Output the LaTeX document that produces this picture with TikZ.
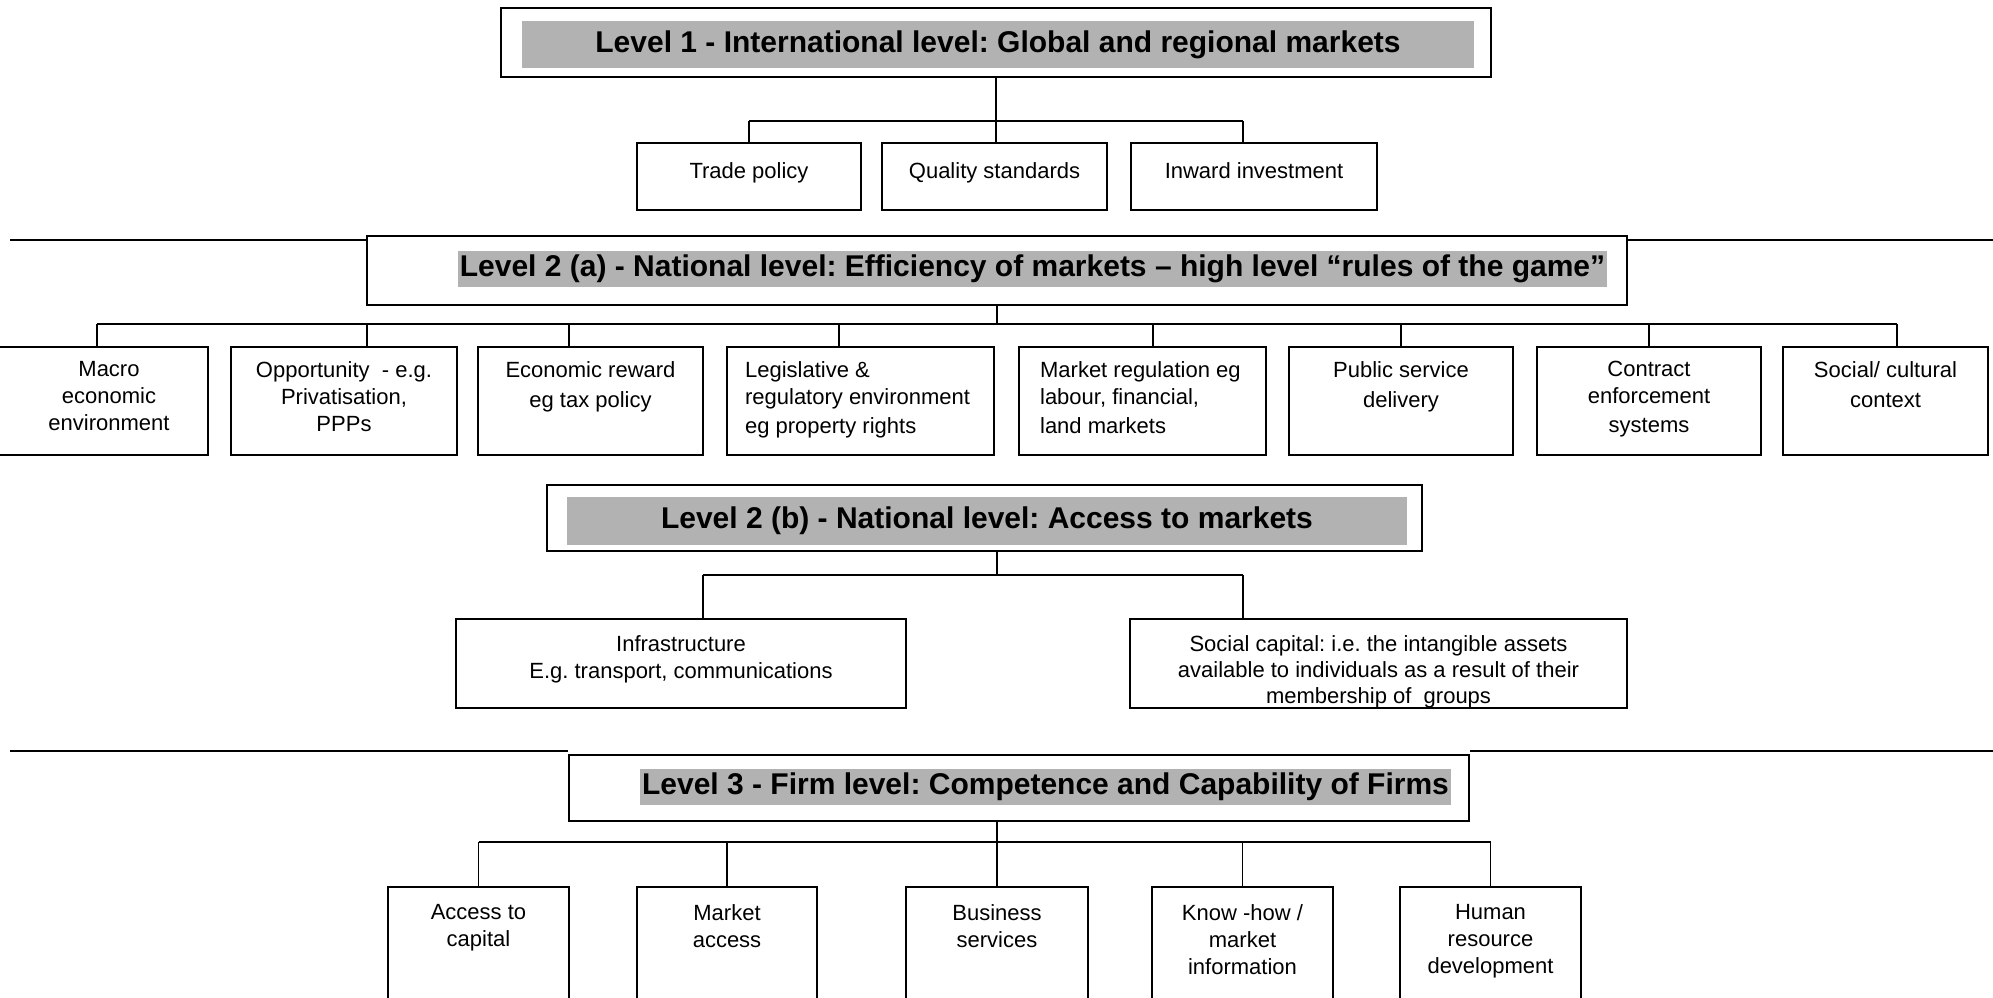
\documentclass[tikz,border=0pt]{standalone}
\usepackage{fontspec}
\setmainfont{Liberation Sans}
\frenchspacing
\tikzset{
  lvlbox/.style={draw, line width=2.2pt, fill=white, inner sep=0pt},
  band/.style={fill=black!30, inner sep=0pt, font=\fontsize{30}{34}\selectfont\bfseries},
  hilite/.style={band, inner xsep=2pt, inner ysep=2.5pt, text height=23pt, text depth=8pt},
  cell/.style={draw, line width=2.2pt, inner sep=0pt},
  celltext/.style={anchor=north, inner sep=0pt, align=center, font=\fontsize{22}{27}\selectfont},
  link/.style={line width=1.6pt},
  sepline/.style={line width=1.2pt},
}

\begin{document}
\begin{tikzpicture}[x=1pt, y=-1pt]
  \useasboundingbox (0,0) rectangle (1993,997);
  \clip (0,0) rectangle (1993,997);

  % coordinates to be reused
  \coordinate (r1) at (10,240);
  \coordinate (r2) at (10,751);
  \coordinate (bar1) at (0,121);
  \coordinate (bar2) at (0,324);
  \coordinate (bar3) at (0,575);
  \coordinate (bar4) at (0,842);

  % level 1
  \node[lvlbox, minimum width=990pt, minimum height=69pt] (l1) at (996,42.5) {};
  \node[band, minimum width=952pt, minimum height=47pt] (l1t) at (998,44.5)
    {Level 1 - International level: Global and regional markets};

  \node[cell, minimum width=224pt, minimum height=67pt] (trade) at (749,176.5) {};
  \node[cell, minimum width=225pt, minimum height=67pt] (quality) at (994.5,176.5) {};
  \node[cell, minimum width=246pt, minimum height=67pt] (inward) at (1254,176.5) {};
  \node[celltext] at ([yshift=-20pt]trade.north) {Trade policy};
  \node[celltext] at ([yshift=-20pt]quality.north) {Quality standards};
  \node[celltext] at ([yshift=-20pt]inward.north) {Inward investment};

  \path ([xshift=-11pt]inward.north) coordinate (inward tap);
  \draw[link] (l1.south) -- (l1.south |- bar1);
  \draw[link] (trade.north |- bar1) -- (inward tap |- bar1);
  \foreach \n/\dx in {trade/0, quality/1.5, inward/-11}
    \draw[link] ([xshift=\dx pt]\n.north) coordinate (t) -- (t |- bar1);

  % level 2 (a)
  \node[lvlbox, minimum width=1260pt, minimum height=69pt] (l2a) at (997,270.5) {};
  \node[hilite] (l2at) at (1032.5,269)
    {Level 2 (a) - National level: Efficiency of markets – high level “rules of the game”};
  \draw[sepline] (r1) -- (r1 -| l2a.west);
  \draw[sepline] (r1 -| l2a.east) -- (r1 -| 1993,0);

  \node[cell, minimum width=214pt, minimum height=108pt] (macro) at (101,401) {};
  \node[cell, minimum width=226pt, minimum height=108pt] (opp) at (344,401) {};
  \node[cell, minimum width=225pt, minimum height=108pt] (reward) at (590.5,401) {};
  \node[cell, minimum width=267pt, minimum height=108pt] (legal) at (860.5,401) {};
  \node[cell, minimum width=247pt, minimum height=108pt] (mreg) at (1142.5,401) {};
  \node[cell, minimum width=224pt, minimum height=108pt] (public) at (1401,401) {};
  \node[cell, minimum width=224pt, minimum height=108pt] (contract) at (1649,401) {};
  \node[cell, minimum width=205pt, minimum height=108pt] (socctx) at (1885.5,401) {};

  \node[celltext] at ([xshift=8pt, yshift=-15pt]macro.north) {Macro\\economic\\environment};
  \node[celltext] at ([yshift=-15pt]opp.north) {Opportunity~ - e.g.\\Privatisation,\\PPPs};
  \node[celltext] at ([yshift=-15pt]reward.north) {Economic reward\\[3pt]eg tax policy};
  \node[celltext, anchor=north west, align=left] at ([xshift=19pt, yshift=-15pt]legal.north west)
    {Legislative \&\\regulatory environment\\[2pt]eg property rights};
  \node[celltext, anchor=north west, align=left] at ([xshift=22pt, yshift=-15pt]mreg.north west)
    {Market regulation eg\\labour, financial,\\[2pt]land markets};
  \node[celltext] at ([yshift=-15pt]public.north) {Public service\\[3pt]delivery};
  \node[celltext] at ([yshift=-15pt]contract.north) {Contract\\enforcement\\[2pt]systems};
  \node[celltext] at ([yshift=-15pt]socctx.north) {Social/ cultural\\[3pt]context};

  \path ([xshift=-4pt]macro.north) coordinate (macro tap);
  \path ([xshift=11.5pt]socctx.north) coordinate (socctx tap);
  \draw[link] (l2a.south) -- (l2a.south |- bar2);
  \draw[link] (macro tap |- bar2) -- (socctx tap |- bar2);
  \foreach \n/\dx in {macro/-4, opp/23, reward/-21.5, legal/-21.5, mreg/10.5,
                      public/0, contract/0, socctx/11.5}
    \draw[link] ([xshift=\dx pt]\n.north) coordinate (t) -- (t |- bar2);

  % level 2 (b)
  \node[lvlbox, minimum width=875pt, minimum height=66pt] (l2b) at (984.5,518) {};
  \node[band, minimum width=840pt, minimum height=48pt] (l2bt) at (987,521)
    {Level 2 (b) - National level: Access to markets};

  \node[cell, minimum width=450pt, minimum height=89pt] (infra) at (681,663.5) {};
  \node[cell, minimum width=497pt, minimum height=89pt] (soccap) at (1378.5,663.5) {};
  \node[celltext] at ([yshift=-17pt]infra.north) {Infrastructure\\E.g. transport, communications};
  \node[celltext, font=\fontsize{22}{26}\selectfont] at ([yshift=-17pt]soccap.north)
    {Social capital: i.e. the intangible assets\\available to individuals as a result of their\\membership of~ groups};

  \path ([xshift=12.5pt]l2b.south) coordinate (l2b tap);
  \path ([xshift=22pt]infra.north) coordinate (infra tap);
  \path ([xshift=-135.5pt]soccap.north) coordinate (soccap tap);
  \draw[link] (l2b tap) -- (l2b tap |- bar3);
  \draw[link] (infra tap |- bar3) -- (soccap tap |- bar3);
  \draw[link] (infra tap) -- (infra tap |- bar3);
  \draw[link] (soccap tap) -- (soccap tap |- bar3);

  % level 3
  \node[lvlbox, minimum width=900pt, minimum height=66pt] (l3) at (1019,788) {};
  \node[hilite] (l3t) at (1045.5,786.5)
    {Level 3 - Firm level: Competence and Capability of Firms};
  \draw[sepline] (r2) -- (r2 -| l3.west);
  \draw[sepline] (r2 -| l3.east) -- (r2 -| 1993,0);

  \node[cell, minimum width=181pt, minimum height=123pt] (capital) at (478.5,948.5) {};
  \node[cell, minimum width=180pt, minimum height=123pt] (access) at (727,948.5) {};
  \node[cell, minimum width=182pt, minimum height=123pt] (services) at (997,948.5) {};
  \node[cell, minimum width=181pt, minimum height=123pt] (knowhow) at (1242.5,948.5) {};
  \node[cell, minimum width=181pt, minimum height=123pt] (hrd) at (1490.5,948.5) {};
  \node[celltext] at ([yshift=-18pt]capital.north) {Access to\\capital};
  \node[celltext] at ([yshift=-18pt]access.north) {Market\\access};
  \node[celltext] at ([yshift=-18pt]services.north) {Business\\services};
  \node[celltext] at ([yshift=-18pt]knowhow.north) {Know -how /\\market\\information};
  \node[celltext] at ([yshift=-18pt]hrd.north) {Human\\resource\\development};

  \path ([xshift=-22pt]l3.south) coordinate (l3 tap);
  \draw[link] (l3 tap) -- (l3 tap |- bar4);
  \draw[link] (capital.north |- bar4) -- (hrd.north |- bar4);
  \foreach \n in {capital, access, services, knowhow, hrd}
    \draw[link] (\n.north) -- (\n.north |- bar4);
\end{tikzpicture}
\end{document}
